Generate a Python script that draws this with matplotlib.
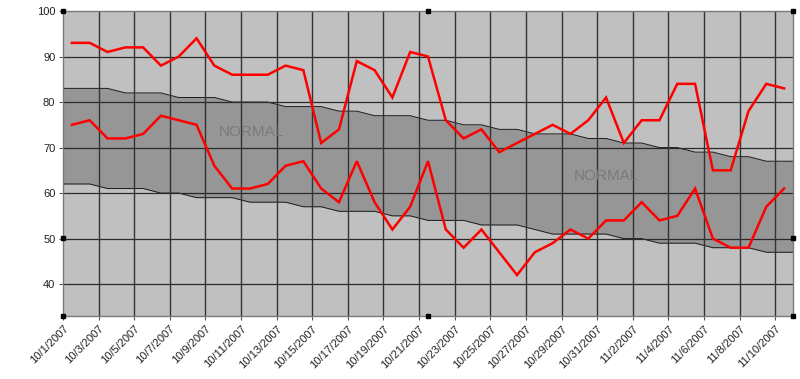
import matplotlib
matplotlib.use("Agg")
import matplotlib.pyplot as plt
import numpy as np

plt.rcParams['font.family'] = ['Liberation Sans', 'DejaVu Sans']

# ---- data (one value per day, 10/1/2007 .. 11/10/2007) ----
high_temp = [93, 93, 91, 92, 92, 88, 90, 94, 88, 86, 86, 86, 88, 87, 71, 74, 89, 87, 81, 91,
             90, 76, 72, 74, 69, 71, 73, 75, 73, 76, 81, 71, 76, 76, 84, 84, 65, 65, 78, 84, 83]
low_temp = [75, 76, 72, 72, 73, 77, 76, 75, 66, 61, 61, 62, 66, 67, 61, 58, 67, 58, 52, 57,
            67, 52, 48, 52, 47, 42, 47, 49, 52, 50, 54, 54, 58, 54, 55, 61, 50, 48, 48, 57, 61]
normal_high = [83, 83, 83, 82, 82, 82, 81, 81, 81, 80, 80, 80, 79, 79, 79, 78, 78, 77, 77, 77,
               76, 76, 75, 75, 74, 74, 73, 73, 73, 72, 72, 71, 71, 70, 70, 69, 69, 68, 68, 67, 67]
normal_low = [62, 62, 61, 61, 61, 60, 60, 59, 59, 59, 58, 58, 58, 57, 57, 56, 56, 56, 55, 55,
              54, 54, 54, 53, 53, 53, 52, 51, 51, 51, 51, 50, 50, 49, 49, 49, 48, 48, 48, 47, 47]
date_labels = ['10/1/2007', '10/3/2007', '10/5/2007', '10/7/2007', '10/9/2007', '10/11/2007',
               '10/13/2007', '10/15/2007', '10/17/2007', '10/19/2007', '10/21/2007', '10/23/2007',
               '10/25/2007', '10/27/2007', '10/29/2007', '10/31/2007', '11/2/2007', '11/4/2007',
               '11/6/2007', '11/8/2007', '11/10/2007']
y_ticks = [40, 50, 60, 70, 80, 90, 100]
band_label = 'NORMAL'

n = len(high_temp)
x = np.arange(n) + 0.5  # categories centred between tick marks

fig = plt.figure(figsize=(8, 3.79), dpi=100)
ax = fig.add_axes([63/800, 1 - 316/379, 730/800, 305/379])
ax.set_xlim(0, n)
ax.set_ylim(33, 100)
ax.set_facecolor('#C0C0C0')

# normal band, extended to the plot edges
xb = np.concatenate([[0], x, [n]])
nh = np.concatenate([[normal_high[0]], normal_high, [normal_high[-1]]])
nl = np.concatenate([[normal_low[0]], normal_low, [normal_low[-1]]])
ax.fill_between(xb, nl, nh, color='#969696', linewidth=0, zorder=1)
ax.plot(xb, nh, color='#1a1a1a', lw=0.7, zorder=1.5)
ax.plot(xb, nl, color='#1a1a1a', lw=0.7, zorder=1.5)

# gridlines
for yv in y_ticks[:-1]:
    ax.axhline(yv, color='#2a2a2a', lw=0.9, zorder=2)
for xv in range(2, n, 2):
    ax.axvline(xv, color='#333333', lw=1.0, zorder=2)

ax.text(10.6, 73.5, band_label, color='#7a7a7a', fontsize=11, ha='center', va='center', zorder=2.5)
ax.text(30.5, 63.8, band_label, color='#7a7a7a', fontsize=11, ha='center', va='center', zorder=2.5)

ax.plot(x, high_temp, color='#FF0000', lw=1.8, zorder=4, solid_joinstyle='miter')
ax.plot(x, low_temp, color='#FF0000', lw=1.8, zorder=4, solid_joinstyle='miter')

ax.set_yticks(y_ticks)
ax.set_yticklabels([str(v) for v in y_ticks])
ax.set_xticks(range(0, n, 2))
ax.set_xticklabels(date_labels, rotation=45, ha='right', va='top', rotation_mode='anchor')
ax.tick_params(axis='both', labelsize=8, labelcolor='#222222', color='#555555',
               length=3, width=0.8, direction='out', pad=2.5)

for sp in ax.spines.values():
    sp.set_color('#7a7a7a')
    sp.set_linestyle((0, (1, 1)))
    sp.set_linewidth(1.0)
    sp.set_zorder(5)

# small selection handles of the plot area
for hx, hy in [(0, 1), (0.5, 1), (1, 1), (0, 0), (0.5, 0), (1, 0), (0, 0.257), (1, 0.257)]:
    ax.plot(hx, hy, marker='s', ms=2.5, color='black', transform=ax.transAxes,
            clip_on=False, zorder=6)

fig.savefig('out.png', dpi=100)
